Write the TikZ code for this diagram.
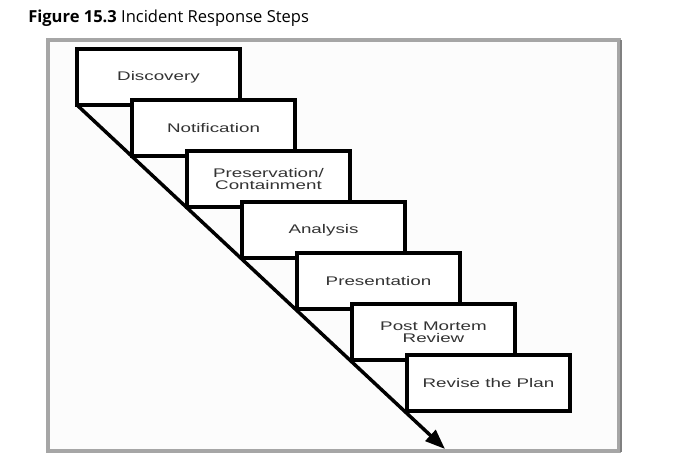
\documentclass[tikz,border=0pt]{standalone}
\usepackage{fontspec}
\usetikzlibrary{positioning}
\usetikzlibrary{arrows.meta}
\newfontfamily\boxfont[FakeStretch=1.5]{Liberation Sans}
\newfontfamily\titlefont{Open Sans}
\tikzset{step node/.style={rectangle,draw,fill=white,line width=2.6pt,minimum width=122.25pt,minimum height=42pt,inner sep=0pt,outer sep=0pt,align=center,text=black!80,font=\boxfont\fontsize{9.4pt}{9pt}\selectfont},}
\tikzset{frame box/.style={draw=black!35,line width=3pt,fill=black!1},}

\begin{document}
\begin{tikzpicture}[x=0.75pt,y=-0.75pt]
     \useasboundingbox (0,0) rectangle (673,469);
     \draw[frame box] (48,40) rectangle (619,451);
     \draw[black!50,line width=1.5pt] (621,40) -- (621,452);
     \node[anchor=base west,inner sep=0pt] (title) at (28,22) {\titlefont\fontsize{12.4pt}{14pt}\selectfont\textbf{Figure 15.3} Incident Response Steps};

     \node[step node,anchor=north west] (disc) at (77,49) {Discovery};
     \node[step node] (noti) [below right = -3.75pt and 41.25pt of disc.south west] {Notification};
     \node[step node] (pres) [below right = -3.75pt and 41.25pt of noti.south west] {Preservation/\\Containment};
     \node[step node] (anal) [below right = -3.75pt and 41.25pt of pres.south west] {Analysis};
     \node[step node] (prsn) [below right = -3.75pt and 41.25pt of anal.south west] {Presentation};
     \node[step node] (post) [below right = -3.75pt and 41.25pt of prsn.south west] {Post Mortem\\Review};
     \node[step node] (revi) [below right = -3.75pt and 41.25pt of post.south west] {Revise the Plan};
     \coordinate[below right = 28.5pt and 28.5pt of revi.south west] (end);

     \path[-{Triangle[length=15pt,width=11pt]},line width=2.6pt]
     (disc.south west) edge node {} (end);
  \end{tikzpicture}
\end{document}
